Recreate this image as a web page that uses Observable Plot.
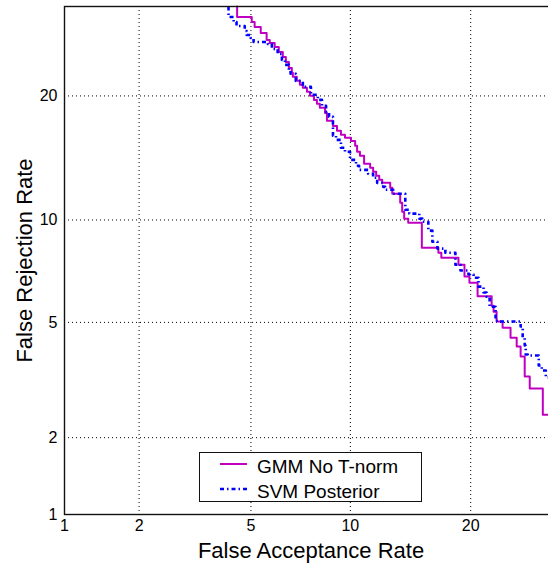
<!DOCTYPE html>
<html>
<head>
<meta charset="utf-8">
<script src="https://cdn.jsdelivr.net/npm/d3@7"></script>
<script src="https://cdn.jsdelivr.net/npm/@observablehq/plot@0.6"></script>
<style>
  html, body { margin: 0; padding: 0; overflow: hidden; background: #fff; }
  #wrap { position: relative; width: 548px; height: 564px; overflow: hidden; }
  #legend { position: absolute; left: 199px; top: 452px; width: 223px; height: 50px;
            background: #fff; border: 1.2px solid #111; box-sizing: border-box; }
  #legend svg { display: block; }
</style>
</head>
<body>
<div id="wrap"><div id="chart"></div><div id="legend"></div></div>
<script>
// ---- data (percent values) ----
const seriesNames = ["GMM No T-norm", "SVM Posterior"];
const tickValues = [1, 2, 5, 10, 20];
const gridValues = [2, 5, 10, 20];
const axisDomain = [1, 30];

const gmmFAR = [4.50, 5.03, 5.14, 5.38, 5.62, 5.75, 5.96, 6.14, 6.32, 6.46, 6.60, 6.74, 6.79, 6.98, 7.13, 7.28, 7.49, 7.65, 7.86, 8.02, 8.18, 8.47, 8.58, 8.93, 9.17, 9.41, 9.66, 10.04, 10.31, 10.44, 10.63, 10.91, 11.33, 11.54, 11.76, 11.98, 12.20, 12.80, 12.96, 13.58, 13.74, 13.90, 14.23, 15.38, 16.86, 17.13, 18.77, 19.37, 19.87, 20.71, 22.21, 22.42, 22.75, 23.42, 24.32, 25.03, 25.49, 25.97, 26.57, 28.16, 30.0];
const gmmFRR = [30.0, 28.72, 28.12, 27.52, 26.82, 26.01, 25.66, 25.21, 24.65, 24.09, 23.55, 22.90, 22.37, 21.95, 21.53, 21.12, 20.81, 20.41, 20.01, 19.61, 19.23, 18.84, 18.36, 17.62, 17.16, 16.72, 16.37, 16.10, 15.84, 15.42, 14.92, 14.59, 13.96, 13.64, 13.33, 13.03, 12.73, 12.51, 12.15, 11.73, 11.12, 10.52, 10.08, 9.83, 8.38, 8.11, 7.85, 7.49, 6.91, 6.63, 6.03, 5.64, 5.40, 5.03, 4.81, 4.46, 4.18, 3.87, 3.31, 3.01, 2.43];

const svmFAR = [4.21, 4.38, 4.48, 4.77, 4.84, 4.99, 5.10, 5.67, 5.84, 6.09, 6.28, 6.42, 6.60, 6.68, 6.93, 7.28, 7.70, 8.07, 8.30, 8.53, 8.70, 8.93, 9.11, 9.41, 9.66, 9.98, 10.37, 10.57, 11.19, 11.54, 11.83, 12.27, 12.42, 13.03, 13.99, 14.32, 15.16, 15.42, 15.95, 16.31, 16.77, 17.51, 18.47, 18.97, 19.77, 20.29, 20.81, 21.34, 21.66, 21.99, 22.64, 22.98, 25.49, 25.73, 25.97, 26.09, 26.33, 27.66, 28.03, 28.53, 30.0];
const svmFRR = [30.0, 28.72, 28.12, 27.64, 27.05, 26.59, 26.24, 25.77, 25.55, 24.98, 24.42, 23.76, 23.22, 22.68, 22.27, 21.53, 20.91, 20.11, 19.61, 19.03, 18.45, 17.99, 16.28, 15.93, 15.26, 14.92, 14.27, 13.80, 13.48, 13.18, 12.88, 12.51, 12.22, 12.01, 11.73, 10.65, 10.40, 10.08, 9.89, 9.35, 8.71, 8.33, 8.11, 7.49, 7.20, 7.01, 6.86, 6.45, 6.19, 6.01, 5.60, 5.06, 5.03, 4.85, 4.46, 4.21, 3.93, 3.90, 3.61, 3.47, 3.29];

const colors = ["#c000c0", "#0000ff"];

// ---- normal deviate (probit) transform for the DET axes ----
function probit(p) {
  const a = [-3.969683028665376e+01, 2.209460984245205e+02, -2.759285104469687e+02, 1.383577518672690e+02, -3.066479806614716e+01, 2.506628277459239e+00];
  const b = [-5.447609879822406e+01, 1.615858368580409e+02, -1.556989798598866e+02, 6.680131188771972e+01, -1.328068155288572e+01];
  const c = [-7.784894002430293e-03, -3.223964580411365e-01, -2.400758277161838e+00, -2.549732539343734e+00, 4.374664141464968e+00, 2.938163982698783e+00];
  const d = [7.784695709041462e-03, 3.224671290700398e-01, 2.445134137142996e+00, 3.754408661907416e+00];
  const pl = 0.02425;
  if (p < pl) {
    const q = Math.sqrt(-2 * Math.log(p));
    return (((((c[0]*q+c[1])*q+c[2])*q+c[3])*q+c[4])*q+c[5]) / ((((d[0]*q+d[1])*q+d[2])*q+d[3])*q+1);
  }
  if (p <= 1 - pl) {
    const q = p - 0.5, r = q * q;
    return (((((a[0]*r+a[1])*r+a[2])*r+a[3])*r+a[4])*r+a[5])*q / (((((b[0]*r+b[1])*r+b[2])*r+b[3])*r+b[4])*r+1);
  }
  const q = Math.sqrt(-2 * Math.log(1 - p));
  return -(((((c[0]*q+c[1])*q+c[2])*q+c[3])*q+c[4])*q+c[5]) / ((((d[0]*q+d[1])*q+d[2])*q+d[3])*q+1);
}
const P = v => probit(v / 100);

const gmm = gmmFAR.map((f, i) => ({x: P(f), y: P(gmmFRR[i])}));
const svm = svmFAR.map((f, i) => ({x: P(f), y: P(svmFRR[i])}));
const ticksP = tickValues.map(P);
const gridP = gridValues.map(P);
const labelOf = new Map(tickValues.map(v => [P(v), String(v)]));

const chart = Plot.plot({
  width: 557,
  height: 564,
  marginLeft: 64,
  marginRight: 0,
  marginTop: 6,
  marginBottom: 50,
  style: {fontFamily: "'Liberation Sans', Arial, Helvetica, sans-serif", fontSize: "16px", color: "#000", background: "#fff", maxWidth: "none"},
  x: {type: "linear", domain: axisDomain.map(P), ticks: ticksP, tickFormat: d => labelOf.get(d) ?? "", tickSize: 0, tickPadding: 5, label: null},
  y: {type: "linear", domain: axisDomain.map(P), ticks: ticksP, tickFormat: d => labelOf.get(d) ?? "", tickSize: 0, tickPadding: 7, label: null},
  marks: [
    Plot.ruleX(gridP, {stroke: "#000", strokeWidth: 1, strokeDasharray: "1,3"}),
    Plot.ruleY(gridP, {stroke: "#000", strokeWidth: 1, strokeDasharray: "1,3"}),
    Plot.line(gmm, {x: "x", y: "y", curve: "step-before", stroke: colors[0], strokeWidth: 2}),
    Plot.line(svm, {x: "x", y: "y", curve: "step-before", stroke: colors[1], strokeWidth: 2.6, strokeDasharray: "4,3,1.5,3", strokeLinecap: "butt"}),
    Plot.frame({stroke: "#111", strokeWidth: 1.4}),
    Plot.text(["False Acceptance Rate"], {text: d => d, frameAnchor: "bottom", textAnchor: "middle", lineAnchor: "middle", dy: 36, fontSize: 22}),
    Plot.text(["False Rejection Rate"], {text: d => d, frameAnchor: "left", textAnchor: "middle", lineAnchor: "middle", rotate: -90, dx: -40, fontSize: 22})
  ]
});
document.getElementById("chart").appendChild(chart);

// ---- legend (inside the axes, like the original) ----
const ns = "http://www.w3.org/2000/svg";
const lsvg = document.createElementNS(ns, "svg");
lsvg.setAttribute("width", 221);
lsvg.setAttribute("height", 48);
lsvg.style.fontFamily = "'Liberation Sans', Arial, Helvetica, sans-serif";
seriesNames.forEach((name, i) => {
  const yy = 11 + i * 25;
  const ln = document.createElementNS(ns, "line");
  ln.setAttribute("x1", 20); ln.setAttribute("x2", 47);
  ln.setAttribute("y1", yy); ln.setAttribute("y2", yy);
  ln.setAttribute("stroke", colors[i]);
  ln.setAttribute("stroke-width", i === 0 ? 2 : 2.6);
  if (i === 1) ln.setAttribute("stroke-dasharray", "4,3,1.5,3");
  lsvg.appendChild(ln);
  const tx = document.createElementNS(ns, "text");
  tx.setAttribute("x", 57);
  tx.setAttribute("y", yy + 9);
  tx.setAttribute("font-size", 19);
  tx.setAttribute("fill", "#000");
  tx.textContent = name;
  lsvg.appendChild(tx);
});
document.getElementById("legend").appendChild(lsvg);
</script>
</body>
</html>
